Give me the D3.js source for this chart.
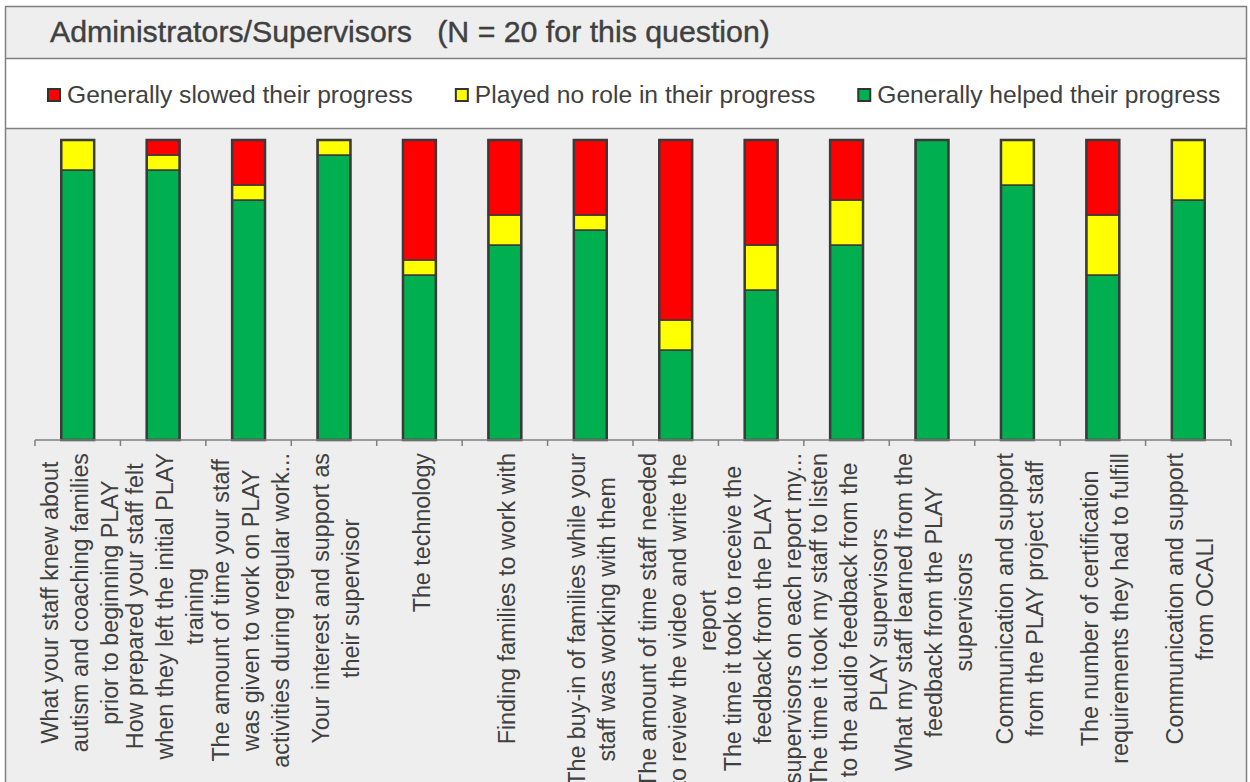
<!DOCTYPE html>
<html>
<head>
<meta charset="utf-8">
<script src="https://cdnjs.cloudflare.com/ajax/libs/d3/7.8.5/d3.min.js"></script>
<style>
  body { margin: 0; background: #fff; }
  svg { display: block; font-family: "Liberation Sans", Arial, sans-serif; }
</style>
</head>
<body>
<div id="chart"></div>
<script>
// Counts out of N = 20 per item
const categories = [
  ["What your staff knew about", "autism and coaching families", "prior to beginning PLAY"],
  ["How prepared your staff felt", "when they left the initial PLAY", "training"],
  ["The amount of time your staff", "was given to work on PLAY", "activities during regular work..."],
  ["Your interest and support as", "their supervisor"],
  ["The technology"],
  ["Finding families to work with"],
  ["The buy-in of families while your", "staff was working with them"],
  ["The amount of time staff needed", "to review the video and write the", "report"],
  ["The time it took to receive the", "feedback from the PLAY", "supervisors on each report my..."],
  ["The time it took my staff to listen", "to the audio feedback from the", "PLAY supervisors"],
  ["What my staff learned from the", "feedback from the PLAY", "supervisors"],
  ["Communication and support", "from the PLAY project staff"],
  ["The number of certification", "requirements they had to fulfill"],
  ["Communication and support", "from OCALI"]
];
const slowed = [0, 1, 3, 0, 8, 5, 5, 12, 7, 4, 0, 0, 5, 0];
const noRole = [2, 1, 1, 1, 1, 2, 1, 2, 3, 3, 0, 3, 4, 4];
const helped = [18, 18, 16, 19, 11, 13, 14, 6, 10, 13, 20, 17, 11, 16];
const seriesNames = ["Generally slowed their progress", "Played no role in their progress", "Generally helped their progress"];
const seriesColors = ["#ff0000", "#ffff00", "#00b050"];
const N = 20;
const title = "Administrators/Supervisors   (N = 20 for this question)";

const W = 1250, H = 782;
const plot = { left: 35, right: 1231, top: 140, bottom: 440 };

const svg = d3.select("#chart").append("svg")
    .attr("width", W)
    .attr("height", H);

// panels
svg.append("rect").attr("x", 5.5).attr("y", 6.5).attr("width", 1241).attr("height", 52)
    .attr("fill", "#eeeeee");
svg.append("rect").attr("x", 5.5).attr("y", 58.5).attr("width", 1241).attr("height", 70)
    .attr("fill", "#ffffff");
svg.append("rect").attr("x", 5.5).attr("y", 128.5).attr("width", 1241).attr("height", 670)
    .attr("fill", "#eeeeee");
svg.append("rect").attr("x", 5.5).attr("y", 6.5).attr("width", 1241).attr("height", 800)
    .attr("fill", "none").attr("stroke", "#808080").attr("stroke-width", 1.5);
[58.5, 128.5].forEach(y => svg.append("line")
    .attr("x1", 5.5).attr("x2", 1246.5).attr("y1", y).attr("y2", y)
    .attr("stroke", "#808080").attr("stroke-width", 1.5));

// title
svg.append("text")
    .attr("x", 50).attr("y", 42)
    .attr("font-size", 30.3)
    .attr("fill", "#404040")
    .attr("stroke", "#404040")
    .attr("stroke-width", 0.4)
    .style("white-space", "pre")
    .text(title);

// legend
let lx = 48;
seriesNames.forEach((name, i) => {
  svg.append("rect")
      .attr("x", lx).attr("y", 89).attr("width", 12).attr("height", 12)
      .attr("fill", seriesColors[i]).attr("stroke", "#333").attr("stroke-width", 2);
  const t = svg.append("text")
      .attr("x", lx + 19).attr("y", 103)
      .attr("font-size", 24.6)
      .attr("fill", "#404040")
      .text(name);
  lx += 19 + t.node().getComputedTextLength() + 43;
});

// scales
const x = d3.scaleBand()
    .domain(d3.range(categories.length))
    .range([plot.left, plot.right])
    .paddingInner(0.615)
    .paddingOuter(0.3075);
const y = d3.scaleLinear().domain([0, N]).range([plot.bottom, plot.top]);

// stacked data
const rows = categories.map((c, i) => ({ i, slowed: slowed[i], noRole: noRole[i], helped: helped[i] }));
const stack = d3.stack().keys(["helped", "noRole", "slowed"]);
const layers = stack(rows);
const colorByKey = { slowed: seriesColors[0], noRole: seriesColors[1], helped: seriesColors[2] };

const bars = svg.append("g");
layers.forEach(layer => {
  bars.selectAll(null)
    .data(layer.filter(d => d[1] > d[0]))
    .join("rect")
      .attr("x", d => x(d.data.i))
      .attr("y", d => y(d[1]))
      .attr("width", x.bandwidth())
      .attr("height", d => y(d[0]) - y(d[1]))
      .attr("fill", colorByKey[layer.key])
      .attr("stroke", "#3a3a3a")
      .attr("stroke-width", 1.5);
});
// bar outlines
bars.selectAll(null)
  .data(rows)
  .join("rect")
    .attr("x", d => x(d.i))
    .attr("y", d => y(d.slowed + d.noRole + d.helped))
    .attr("width", x.bandwidth())
    .attr("height", d => y(0) - y(d.slowed + d.noRole + d.helped))
    .attr("fill", "none")
    .attr("stroke", "#3a3a3a")
    .attr("stroke-width", 2.5);

// x axis line + ticks at category boundaries
const axis = svg.append("g").attr("stroke", "#7f7f7f").attr("stroke-width", 1.5);
axis.append("line")
    .attr("x1", plot.left).attr("x2", plot.right)
    .attr("y1", plot.bottom).attr("y2", plot.bottom);
const boundaries = d3.range(categories.length + 1).map(k => plot.left + k * x.step());
axis.selectAll(null)
  .data(boundaries)
  .join("line")
    .attr("x1", d => d).attr("x2", d => d)
    .attr("y1", plot.bottom).attr("y2", plot.bottom + 6);

// rotated, wrapped labels
const labelG = svg.append("g").attr("fill", "#404040").attr("font-size", 23.3);
categories.forEach((lines, i) => {
  const cx = x(i) + x.bandwidth() / 2;
  const g = labelG.append("g")
      .attr("transform", `translate(${cx + 2},${plot.bottom + 13}) rotate(-90)`);
  const texts = lines.map((t, j) => g.append("text")
      .attr("y", (j - (lines.length - 1) / 2) * 30)
      .attr("dy", "0.35em")
      .attr("text-anchor", "middle")
      .text(t));
  const maxLen = d3.max(texts, t => t.node().getComputedTextLength());
  texts.forEach(t => t.attr("x", -maxLen / 2));
});
</script>
</body>
</html>
